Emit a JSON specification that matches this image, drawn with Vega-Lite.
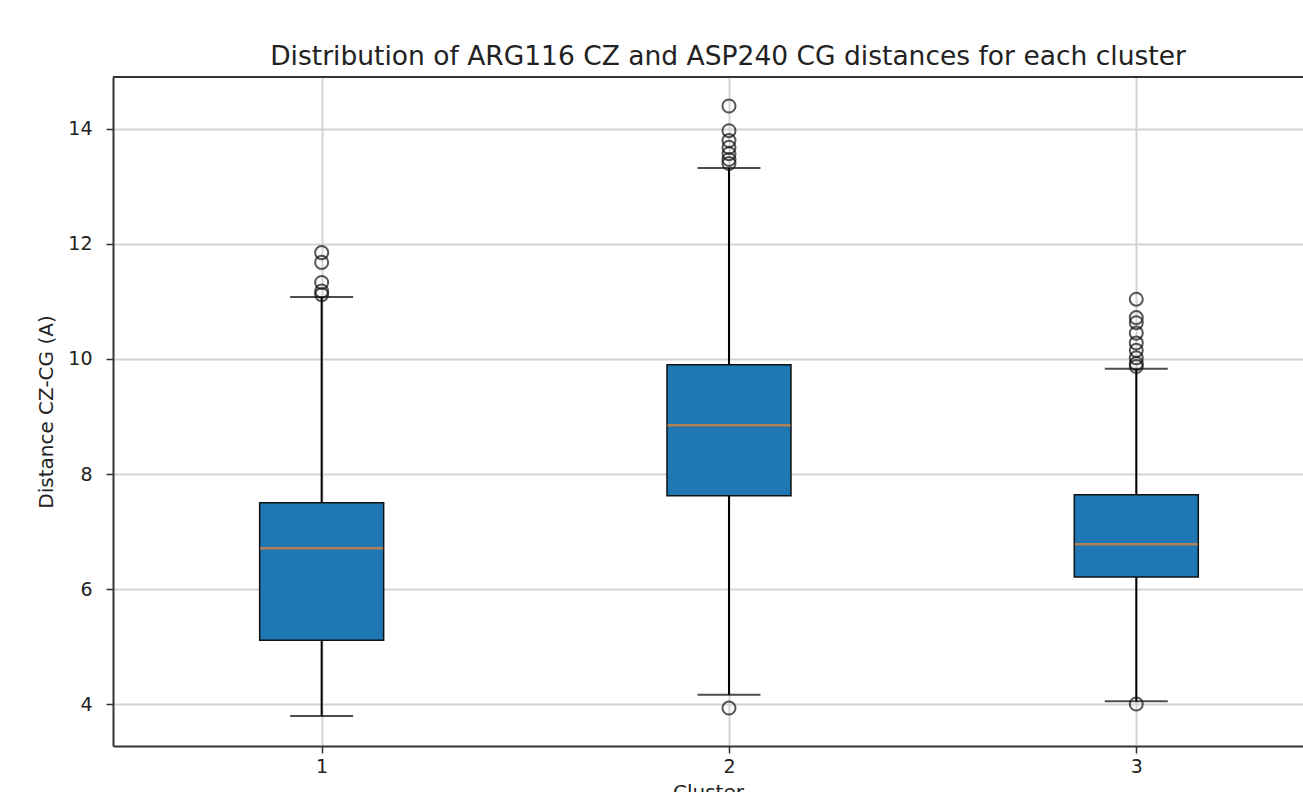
{
  "$schema": "https://vega.github.io/schema/vega-lite/v6.json",
  "autosize": {"type": "none"},
  "padding": {"left": 113, "top": 77, "right": 0, "bottom": 46},
  "width": 1190,
  "height": 669,
  "background": "white",
  "config": {
    "view": {"stroke": null},
    "font": "DejaVu Sans",
    "axis": {
      "labelFont": "DejaVu Sans",
      "titleFont": "DejaVu Sans",
      "labelFontSize": 19,
      "titleFontSize": 20,
      "titleFontWeight": "normal",
      "labelColor": "#222",
      "titleColor": "#222",
      "gridColor": "#d3d3d3",
      "gridWidth": 2,
      "gridOpacity": 1,
      "domainColor": "#333",
      "domainWidth": 2,
      "tickColor": "#333",
      "tickWidth": 1.5,
      "tickSize": 7
    }
  },
  "title": {
    "text": "Distribution of ARG116 CZ and ASP240 CG distances for each cluster",
    "font": "DejaVu Sans",
    "fontSize": 26.5,
    "fontWeight": "normal",
    "color": "#222",
    "anchor": "middle",
    "baseline": "alphabetic",
    "dx": 20,
    "dy": 26,
    "offset": 11
  },
  "datasets": {
    "stats": [
      {"cluster": 1, "lower": 3.79, "q1": 5.11, "median": 6.71, "q3": 7.50, "upper": 11.08},
      {"cluster": 2, "lower": 4.16, "q1": 7.62, "median": 8.85, "q3": 9.90, "upper": 13.32},
      {"cluster": 3, "lower": 4.05, "q1": 6.21, "median": 6.78, "q3": 7.64, "upper": 9.83}
    ],
    "outliers": [
      {"cluster": 1, "distance": 11.85},
      {"cluster": 1, "distance": 11.68},
      {"cluster": 1, "distance": 11.33},
      {"cluster": 1, "distance": 11.18},
      {"cluster": 1, "distance": 11.12},
      {"cluster": 2, "distance": 14.40},
      {"cluster": 2, "distance": 13.97},
      {"cluster": 2, "distance": 13.80},
      {"cluster": 2, "distance": 13.68},
      {"cluster": 2, "distance": 13.57},
      {"cluster": 2, "distance": 13.47},
      {"cluster": 2, "distance": 13.40},
      {"cluster": 2, "distance": 3.93},
      {"cluster": 3, "distance": 11.04},
      {"cluster": 3, "distance": 10.72},
      {"cluster": 3, "distance": 10.63},
      {"cluster": 3, "distance": 10.45},
      {"cluster": 3, "distance": 10.28},
      {"cluster": 3, "distance": 10.15},
      {"cluster": 3, "distance": 10.02},
      {"cluster": 3, "distance": 9.92},
      {"cluster": 3, "distance": 9.87},
      {"cluster": 3, "distance": 4.00}
    ]
  },
  "layer": [
    {
      "data": {"name": "stats"},
      "mark": {"type": "rule", "color": "#000", "strokeWidth": 2},
      "encoding": {
        "x": {
          "field": "cluster", "type": "quantitative",
          "scale": {"domain": [0.5, 3.397], "nice": false, "zero": false},
          "axis": {"values": [1, 2, 3], "format": "d", "title": "Cluster", "titlePadding": 6, "labelPadding": 4, "grid": true}
        },
        "y": {
          "field": "lower", "type": "quantitative",
          "scale": {"domain": [3.27, 14.904], "nice": false, "zero": false},
          "axis": {"values": [4, 6, 8, 10, 12, 14], "format": "d", "title": "Distance CZ-CG (A)", "titlePadding": 11, "labelPadding": 14, "grid": true}
        },
        "y2": {"field": "upper"}
      }
    },
    {
      "data": {"name": "stats"},
      "mark": {"type": "tick", "orient": "horizontal", "color": "#000", "size": 63, "thickness": 2},
      "encoding": {
        "x": {"field": "cluster", "type": "quantitative"},
        "y": {"field": "upper", "type": "quantitative"}
      }
    },
    {
      "data": {"name": "stats"},
      "mark": {"type": "tick", "orient": "horizontal", "color": "#000", "size": 63, "thickness": 2},
      "encoding": {
        "x": {"field": "cluster", "type": "quantitative"},
        "y": {"field": "lower", "type": "quantitative"}
      }
    },
    {
      "data": {"name": "stats"},
      "mark": {"type": "bar", "orient": "vertical", "size": 124, "fill": "#1f77b4", "stroke": "#111", "strokeWidth": 1.5},
      "encoding": {
        "x": {"field": "cluster", "type": "quantitative"},
        "y": {"field": "q1", "type": "quantitative"},
        "y2": {"field": "q3"}
      }
    },
    {
      "data": {"name": "stats"},
      "mark": {"type": "tick", "orient": "horizontal", "color": "#f0842c", "size": 123, "thickness": 2.5},
      "encoding": {
        "x": {"field": "cluster", "type": "quantitative"},
        "y": {"field": "median", "type": "quantitative"}
      }
    },
    {
      "data": {"name": "outliers"},
      "mark": {"type": "point", "shape": "circle", "filled": false, "stroke": "#111", "strokeWidth": 2, "size": 170},
      "encoding": {
        "x": {"field": "cluster", "type": "quantitative"},
        "y": {"field": "distance", "type": "quantitative"}
      }
    },
    {
      "data": {"values": [{}]},
      "mark": {"type": "rule", "color": "#333", "strokeWidth": 2},
      "encoding": {
        "y": {"datum": 14.904, "type": "quantitative"}
      }
    }
  ]
}
